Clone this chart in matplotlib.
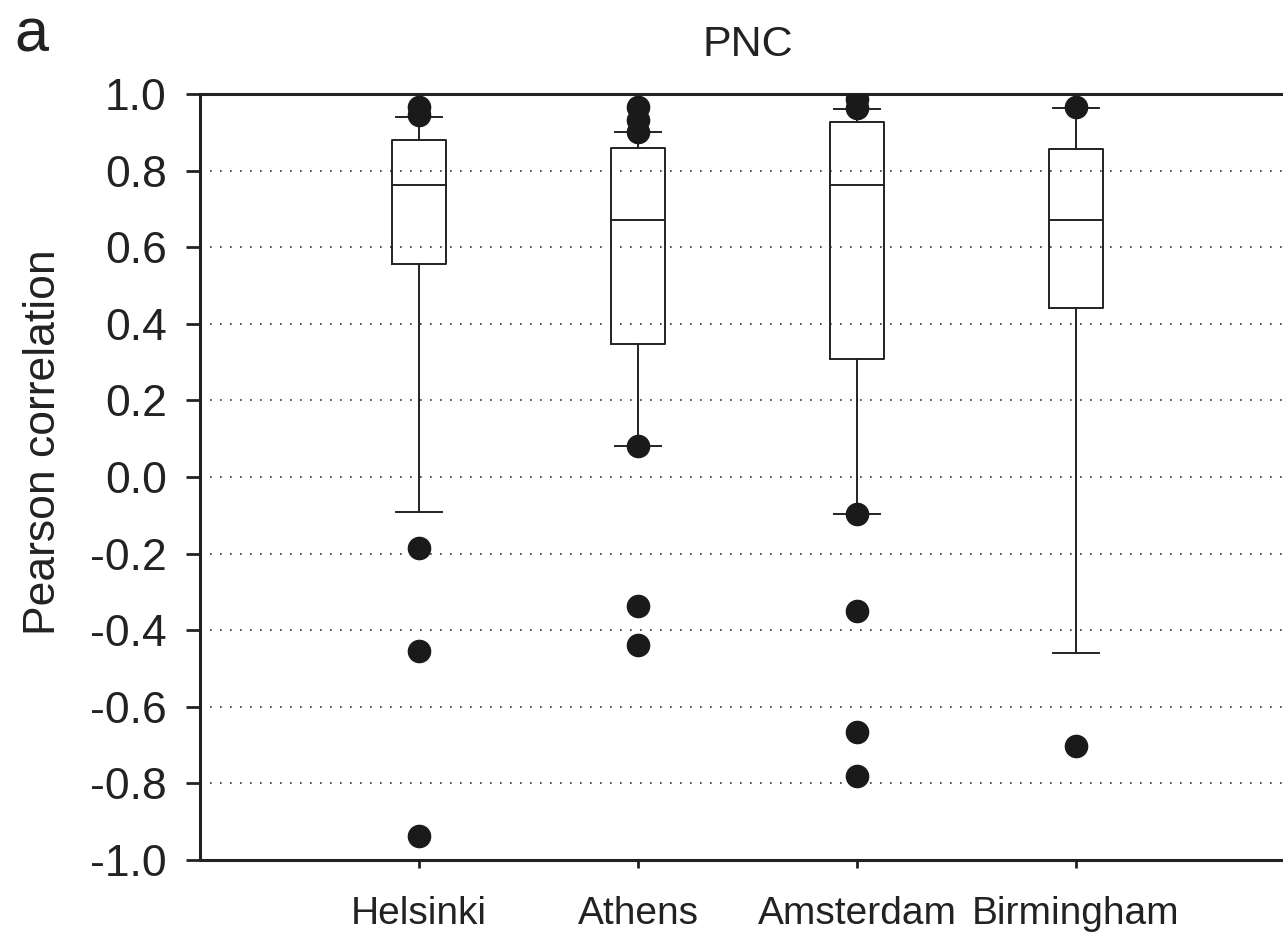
import matplotlib.pyplot as plt

plt.rcParams['font.family'] = ['Liberation Sans', 'DejaVu Sans']

# box statistics per city (whiskers at 10th/90th percentile, points beyond them)
cities = ["Helsinki", "Athens", "Amsterdam", "Birmingham"]
q1 = [0.556, 0.347, 0.308, 0.441]
med = [0.762, 0.671, 0.762, 0.671]
q3 = [0.880, 0.859, 0.927, 0.856]
whislo = [-0.091, 0.081, -0.097, -0.460]
whishi = [0.940, 0.901, 0.961, 0.963]
fliers = [
    [0.966, 0.945, -0.185, -0.454, -0.937],
    [0.966, 0.932, 0.901, 0.081, -0.337, -0.439],
    [0.987, 0.963, -0.097, -0.350, -0.666, -0.781],
    [0.966, -0.702],
]

stats = []
for i, name in enumerate(cities):
    stats.append(dict(label=name, q1=q1[i], med=med[i], q3=q3[i],
                      whislo=whislo[i], whishi=whishi[i], fliers=fliers[i]))

fig = plt.figure(figsize=(12.83, 9.32), dpi=100)
ax = fig.add_axes([200 / 1283, 72 / 932, 1095 / 1283, 766 / 932])

lw = 1.4
ax.bxp(stats, positions=[1, 2, 3, 4], widths=0.25, capwidths=0.21,
       boxprops=dict(color='#222222', linewidth=lw),
       medianprops=dict(color='#222222', linewidth=lw),
       whiskerprops=dict(color='#222222', linewidth=lw),
       capprops=dict(color='#222222', linewidth=lw),
       flierprops=dict(marker='o', markersize=16, markerfacecolor='#1a1a1a',
                       markeredgecolor='#1a1a1a', linestyle='none'),
       zorder=3)

ax.set_xlim(0, 5)
ax.set_ylim(-1.0, 1.0)
yt = [-1.0, -0.8, -0.6, -0.4, -0.2, 0.0, 0.2, 0.4, 0.6, 0.8, 1.0]
ax.set_yticks(yt)
ax.set_yticklabels([f"{v:.1f}" for v in yt])
ax.set_xticks([1, 2, 3, 4])
ax.set_xticklabels(cities)

# dotted grid lines between the top and bottom spines
for v in yt[1:-1]:
    ax.axhline(v, color='#333333', linewidth=1.2, linestyle=(0, (1, 5)), zorder=1)

for side in ['left', 'bottom', 'top']:
    ax.spines[side].set_linewidth(2.2)
    ax.spines[side].set_color('#222222')
ax.spines['right'].set_visible(False)

ax.tick_params(axis='y', direction='out', length=10, width=2, pad=14,
               labelsize=32, colors='#222222')
ax.tick_params(axis='x', direction='out', length=6, width=2, pad=20,
               labelsize=28, colors='#222222')

fig.text(748 / 1283, 1 - 45 / 932, "PNC", fontsize=31, ha='center', va='center',
         color='#222222')
fig.text(44 / 1283, 1 - 442 / 932, "Pearson correlation", fontsize=32,
         rotation=90, ha='center', va='center', color='#222222')
fig.text(14 / 1283, 1 - 36 / 932, "a", fontsize=44, ha='left', va='center',
         color='#222222')

fig.savefig("out.png", dpi=100)
